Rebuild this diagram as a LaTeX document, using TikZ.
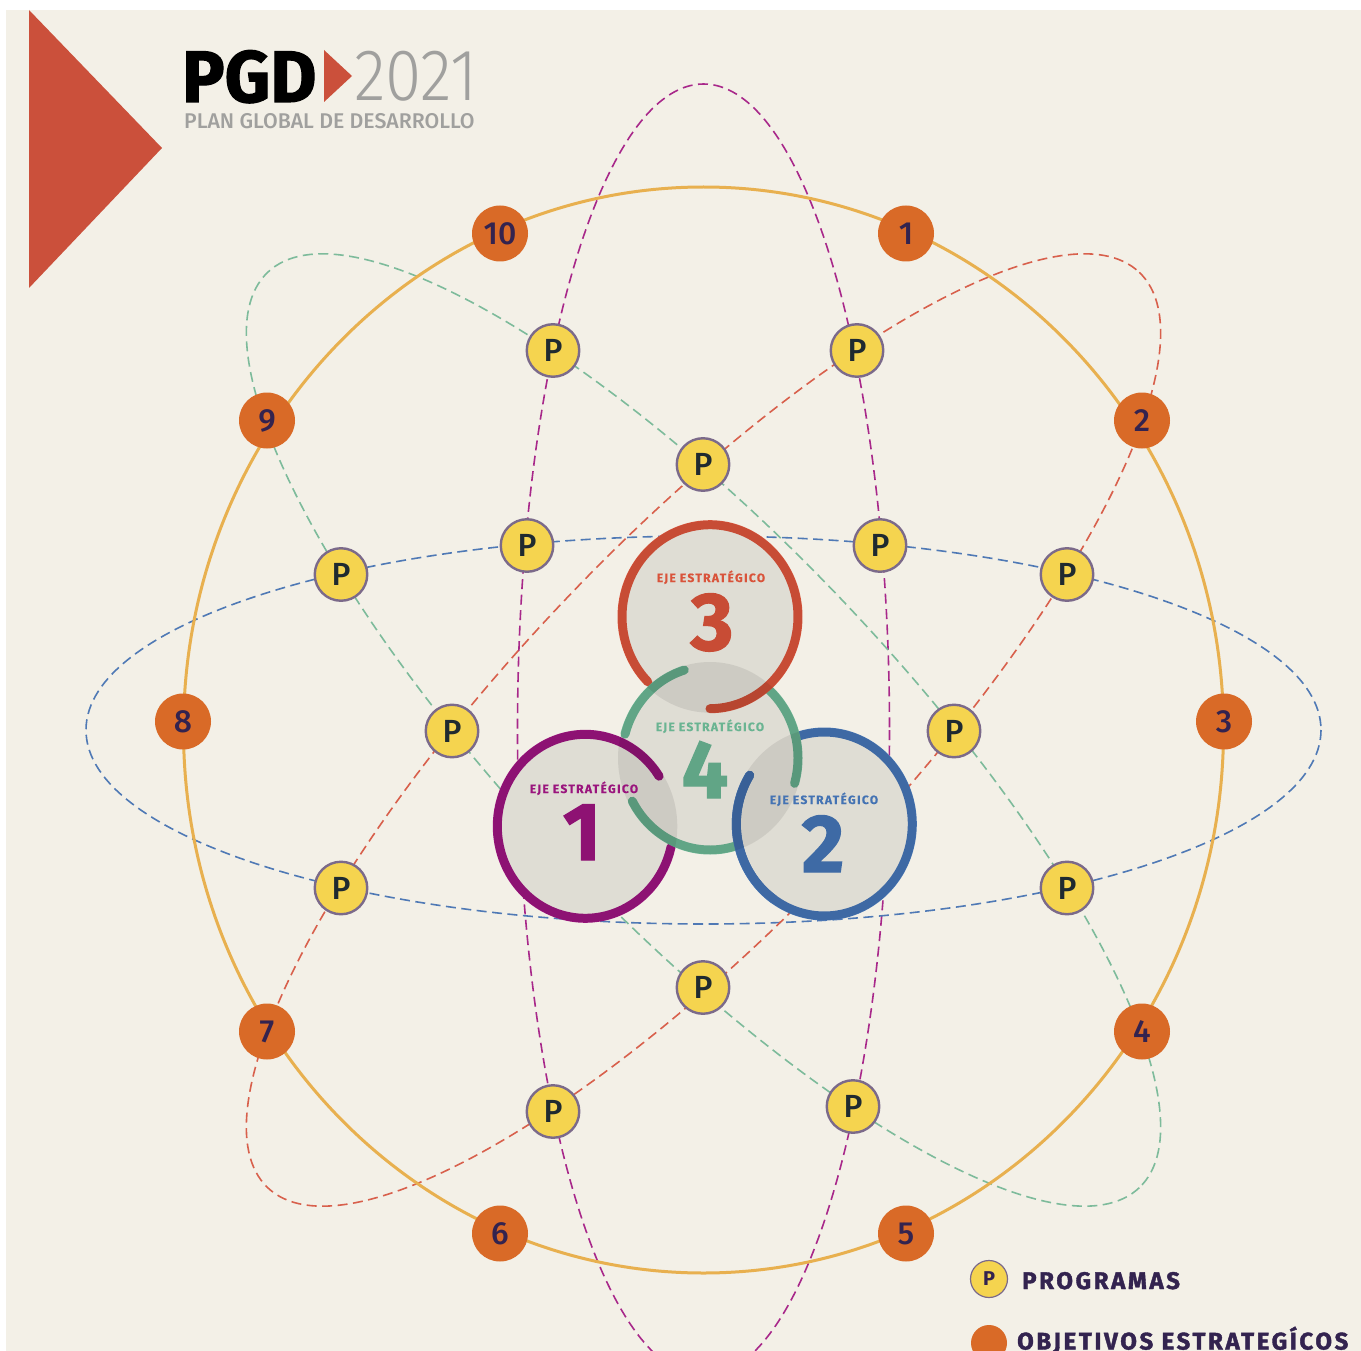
\documentclass[tikz,border=0pt]{standalone}
\usepackage{fontspec}
\setmainfont{Fira Sans}
\newfontfamily\fheavy[UprightFont=* Bold,FakeBold=1.6]{Fira Sans}
\newfontfamily\fheavysp[UprightFont=* Bold,FakeBold=1.6,LetterSpace=11]{Fira Sans}
\newfontfamily\fbold[UprightFont=* Bold]{Fira Sans}
\newfontfamily\fboldsp[UprightFont=* Bold,FakeBold=0.4,LetterSpace=11]{Fira Sans}
\newfontfamily\fmed[UprightFont=* Medium]{Fira Sans}
\newfontfamily\flight[UprightFont=* Light]{Fira Sans}
\definecolor{bgcream}{HTML}{F3F0E7}
\definecolor{triangred}{HTML}{CB503B}
\definecolor{orbit}{HTML}{E8B04F}
\definecolor{objfill}{HTML}{D96A27}
\definecolor{pfill}{HTML}{F5D44F}
\definecolor{pline}{HTML}{7B6A8A}
\definecolor{darkpurple}{HTML}{33234F}
\definecolor{pletter}{HTML}{1F2A30}
\definecolor{dashpurple}{HTML}{A8288A}
\definecolor{dashblue}{HTML}{4F79B5}
\definecolor{dashred}{HTML}{D8604C}
\definecolor{dashgreen}{HTML}{7DBB9B}
\definecolor{ringA}{HTML}{9A147D}
\definecolor{ringB}{HTML}{4473B3}
\definecolor{ringC}{HTML}{D9533A}
\definecolor{ringD}{HTML}{6AB492}
\definecolor{logogrey}{HTML}{A0A09E}
\tikzset{
  dashorbit/.style={line width=1.6pt,dash pattern=on 10pt off 5.5pt},
  pnode/.style={circle,draw=pline,fill=pfill,line width=2.4pt,minimum size=52.5pt,inner sep=0pt,font=\fmed\fontsize{32}{32}\selectfont,text=pletter},
  objnode/.style={circle,fill=objfill,minimum size=56pt,inner sep=0pt,font=\fmed\fontsize{32}{32}\selectfont,text=darkpurple},
  ringarc/.style={line width=9pt,line cap=round,line join=round},
  ejelabel/.style={anchor=base,inner sep=0pt,font=\fboldsp\fontsize{12}{12}\selectfont},
  bignum/.style={anchor=base,inner sep=0pt,font=\fheavy\fontsize{82}{82}\selectfont},
}
\newcommand{\ringseg}[6][]{%
  \draw[ringarc,#1,color=#2] plot[domain=#5:#6,samples=70,smooth] ({#3+88*cos(\x)},{#4+92*sin(\x)});}
\begin{document}
\begin{tikzpicture}[x=1pt,y=-1pt]
\useasboundingbox (0,0) rectangle (1361,1351);
\clip (0,0) rectangle (1361,1351);
\fill[white] (0,0) rectangle (1361,1351);
\fill[bgcream] (6,10) rectangle (1361,1351);
% logo
\fill[triangred] (29,10) -- (162,148) -- (29,288) -- cycle;
\node[anchor=base west,inner sep=0pt,xscale=.97,font=\fheavy\fontsize{73}{73}\selectfont,text=black] (pgd) at (182,102) {PGD};
\fill[triangred] (324,50) -- (352,76) -- (324,102) -- cycle;
\node[anchor=base west,inner sep=0pt,xscale=.9,font=\flight\fontsize{73}{73}\selectfont,text=logogrey] (year) at (354,101) {2021};
\node[anchor=base west,inner sep=0pt,font=\fmed\fontsize{21.3}{21.3}\selectfont,text=logogrey] (plan) at (184,129) {PLAN GLOBAL DE DESARROLLO};
% orbits
\coordinate (c) at (703.5,730);
\draw[dashpurple,dashorbit] (c) ellipse [x radius=186,y radius=646];
\draw[dashblue,dashorbit] (c) ellipse [x radius=617.5,y radius=194];
\draw[dashred,dashorbit,rotate around={46.4:(c)}] (c) ellipse [x radius=632,y radius=190];
\draw[dashgreen,dashorbit,rotate around={-46.4:(c)}] (c) ellipse [x radius=632,y radius=190];
\draw[orbit,line width=3pt] (c) ellipse [x radius=520,y radius=543];
% objective nodes
\foreach \n/\x/\y in {1/906/233.5,2/1142/420.5,3/1224/721.5,4/1142/1031.5,5/906/1233.5,6/500/1233.5,7/267/1031.5,8/183/721.5,9/267/420.5,10/500/233.5}
  \node[objnode] (o\n) at (\x,\y) {\raisebox{-3pt}{\n}};
% programme nodes
\foreach \n/\x/\y in {a/553/350.5,b/857/350.5,c/703/464.5,d/527/545.5,e/880/545.5,f/341/574.5,g/1067/574.5,h/452/731,i/954/731,j/341/888,k/1067/888,l/703/987.5,m/553/1111.5,n/853/1106.5}
  \node[pnode] (p\n) at (\x,\y) {\raisebox{-2pt}{P}};
% axis discs: cream mask hides the orbits
\foreach \x/\y in {585.3/826.3,824.3/824,710/616.7,710/758}
  \fill[bgcream] (\x,\y) ellipse [x radius=92,y radius=96];
% rings with their gaps
\ringseg{ringB}{824.3}{824}{-148}{-468}
\ringseg{ringD}{710}{758}{16}{-50}
\ringseg{ringC}{710}{616.7}{90}{-225}
\ringseg{ringD}{710}{758}{-107}{-165}
\ringseg{ringA}{585.3}{826.3}{-33}{-347}
\ringseg{ringD}{710}{758}{152}{74}
\ringseg{ringB}{824.3}{824}{-148}{-235}
% translucent discs above the rings
\foreach \x/\y in {585.3/826.3,824.3/824,710/616.7,710/758}
  \fill[black,opacity=.08] (\x,\y) ellipse [x radius=92,y radius=96];
% axis labels
\node[ejelabel,text=ringC] (l3) at (711,582) {EJE ESTRATÉGICO};
\node[bignum,text=ringC!92!black] (n3) at (712,650) {3};
\node[ejelabel,text=ringD] (l4) at (710,731) {EJE ESTRATÉGICO};
\node[bignum,text=ringD!92!black] (n4) at (705,798) {4};
\node[ejelabel,text=ringA] (l1) at (584,793) {EJE ESTRATÉGICO};
\node[bignum,text=ringA!92!black] (n1) at (582,860) {1};
\node[ejelabel,text=ringB] (l2) at (824,804) {EJE ESTRATÉGICO};
\node[bignum,text=ringB!92!black] (n2) at (823,872) {2};
% legend
\node[circle,draw=pline,fill=pfill,line width=1.2pt,minimum size=37pt,inner sep=0pt,font=\fbold\fontsize{20}{20}\selectfont,text=darkpurple] (lp) at (989,1279) {P};
\node[anchor=base west,inner sep=0pt,font=\fheavysp\fontsize{24}{24}\selectfont,text=darkpurple] (ltp) at (1022,1289) {PROGRAMAS};
\node[circle,fill=objfill,minimum size=36pt,inner sep=0pt] (lo) at (989,1343) {};
\node[anchor=base west,inner sep=0pt,font=\fheavysp\fontsize{24}{24}\selectfont,text=darkpurple] (lto) at (1017,1349.5) {OBJETIVOS ESTRATEGÍCOS};
\end{tikzpicture}
\end{document}
